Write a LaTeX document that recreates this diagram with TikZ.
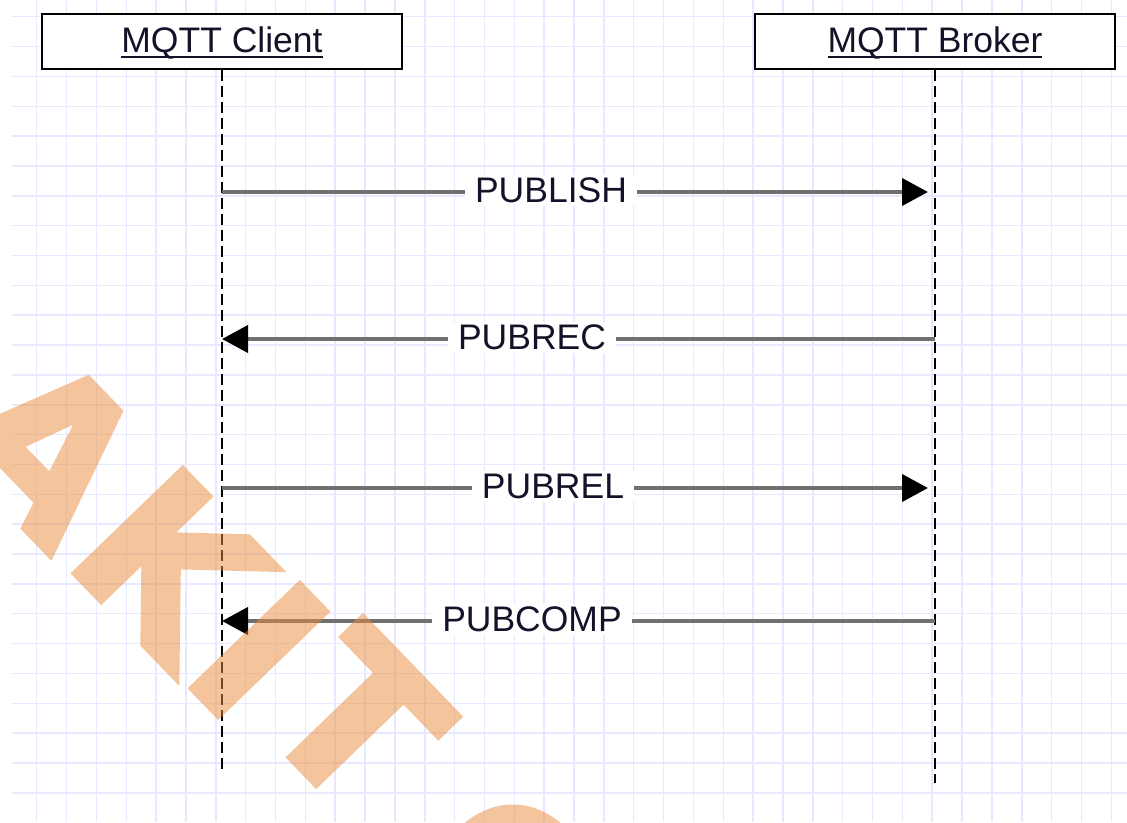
\documentclass[tikz,border=0pt]{standalone}
\usepackage{fontspec}
\setmainfont{Liberation Sans}
\newfontfamily\wmfont{DejaVu Sans}[FakeBold=2.5]
\usetikzlibrary{arrows.meta}
\definecolor{gridc}{RGB}{232,232,254}
\definecolor{msgc}{RGB}{112,112,112}
\definecolor{wmc}{RGB}{235,140,60}
\definecolor{txtc}{RGB}{22,16,40}
\newcommand\myul[1]{\setbox0\hbox{#1}\rlap{\rule[-5.5pt]{\wd0}{2pt}}\box0}
\tikzset{
  hdr/.style={draw=black, line width=2.5pt, fill=white, minimum width=360pt, minimum height=55pt,
    inner sep=0pt, text height=26pt, text depth=5pt, text=txtc, font=\fontsize{35.5}{40}\selectfont},
  life/.style={black, line width=2.4pt, dash pattern=on 11pt off 5pt},
  msg/.style={msgc, line width=4pt, -{Triangle[length=26pt,width=27pt,color=black]}},
  lbl/.style={fill=white, inner xsep=10pt, inner ysep=3pt, text height=25pt, text depth=0pt,
    text=txtc, font=\fontsize{35.5}{40}\selectfont},
  wm/.style={text=wmc, rotate=-46, inner sep=0pt, font=\wmfont\bfseries\fontsize{207}{207}\selectfont},
}
\begin{document}
\begin{tikzpicture}[x=1pt,y=-1pt]
\useasboundingbox (0,0) rectangle (1127,822);
\fill[white] (0,0) rectangle (1127,822);
% grid
\foreach \k in {0,...,36} { \draw[gridc, line width=1.5pt] ({36.7+29.85*\k},0) -- ({36.7+29.85*\k},822); }
\foreach \k in {0,...,26} { \draw[gridc, line width=1.5pt] (12,{16.7+29.85*\k}) -- (1127,{16.7+29.85*\k}); }
% lifelines
\coordinate (cEnd) at (222,773);
\coordinate (bEnd) at (935,783);
\node[hdr] (client) at (222,41.5) {\myul{MQTT Client}};
\node[hdr] (broker) at (935,41.5) {\myul{MQTT Broker}};
\draw[life] (client.south) -- (cEnd);
\draw[life] (broker.south) -- (bEnd);
% message endpoints
\coordinate (c1) at (222,192); \coordinate (b1) at (928,192);
\coordinate (b2) at (935,339); \coordinate (c2) at (222,339);
\coordinate (c3) at (222,488); \coordinate (b3) at (928,488);
\coordinate (b4) at (935,621); \coordinate (c4) at (222,621);
\draw[msg] (c1) -- (b1);
\draw[msg] (b2) -- (c2);
\draw[msg] (c3) -- (b3);
\draw[msg] (b4) -- (c4);
\node[lbl] (l1) at (551,190) {PUBLISH};
\node[lbl] (l2) at (532,337) {PUBREC};
\node[lbl] (l3) at (553,486) {PUBREL};
\node[lbl] (l4) at (532,619) {PUBCOMP};
% watermark
\begin{scope}[transparency group, opacity=0.5]
\node[wm] (wA) at (50,447) {A};
\node[wm] (wK) at (171,565) {K};
\node[wm] (wI) at (259,650) {I};
\node[wm] (wT) at (357,719) {T};
\node[wm] (wO) at (512,888) {O};
\end{scope}
\end{tikzpicture}
\end{document}
